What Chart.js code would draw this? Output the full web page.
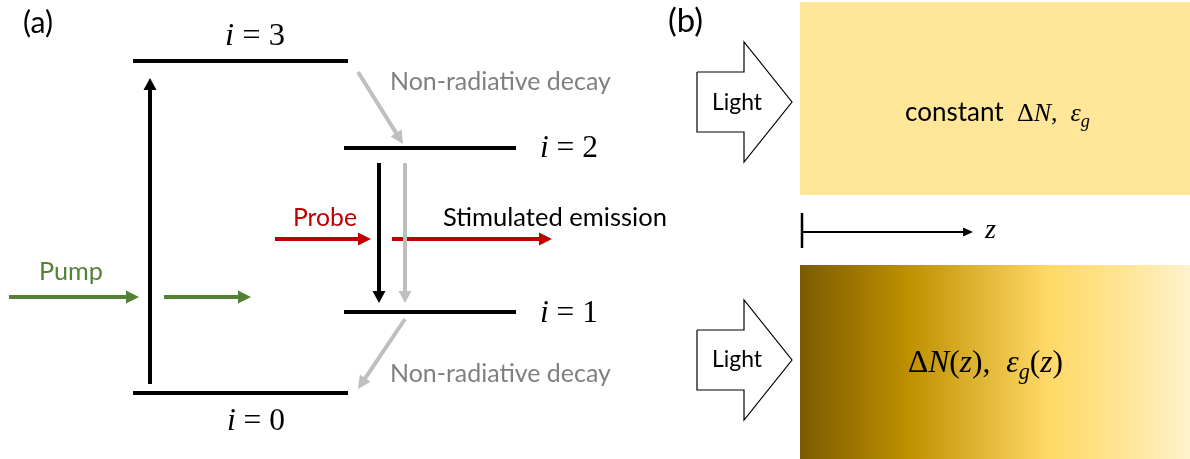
<!DOCTYPE html>
<html><head><meta charset="utf-8">
<script src="https://cdn.jsdelivr.net/npm/chart.js@4"></script>
<style>html,body{margin:0;padding:0;background:#fff;overflow:hidden}#wrap{width:1190px;height:459px}</style>
</head><body><div id="wrap"><canvas id="c" width="1190" height="459"></canvas></div>
<script>
// ---------- data (diagram units) ----------
const levelLabels = ['0', '1', '2', '3'];
const levelHeight = [393, 312, 148, 61];
const levelStart  = [133, 344, 344, 133];
const levelEnd    = [348, 516, 516, 348];

// transitions: [x0, y0, x1(tip), y1(tip)]
const pumpTransition        = [150, 384, 150, 78];
const stimulatedTransition  = [379, 163, 379, 303];
const spontaneousTransition = [405, 163, 405, 303];
const decayUpper            = [358, 72, 403, 144];
const decayLower            = [405, 319, 358, 389];
const pumpBeams  = [[9, 297, 139, 297], [164, 297, 251, 297]];
const probeBeams = [[275, 239, 371, 239], [392, 239, 552, 239]];

// panel (b)
const uniformSlab = [800, 2, 1190, 195];
const gradedSlab  = [800, 265, 1190, 459];
const zAxisArrow  = [802, 232, 973, 232];
const zAxisTick   = [802, 213, 802, 248];
// light arrows: [tail x, neck x, tip x, centre y, shaft half-height, head half-height]
const lightArrows = [[697, 744, 792, 102, 30, 60], [697, 744, 792, 360, 30, 60]];
const gradientStops = [0, 0.28, 0.635, 0.85, 1];
const gradientColors = ['#7A5B00', '#BF9000', '#FFD966', '#FFE699', '#FFF2CC'];

// texts
const panelLabels = ['(a)', '(b)'];
const beamLabels = ['Pump', 'Probe', 'Stimulated emission', 'Non-radiative decay', 'Non-radiative decay', 'Light', 'Light'];

// ---------- layout ----------
const C = {black:'#000000', green:'#548235', red:'#C00000', gray:'#BFBFBF', grayText:'#7F7F7F'};
const SANS = 'Lato, "Open Sans", sans-serif';
const MATH = '"Liberation Serif", "DejaVu Serif", serif';

function seg(a, head){
  if(!head) return [{x:a[0],y:a[1]},{x:a[2],y:a[3]}];
  const dx=a[2]-a[0], dy=a[3]-a[1], L=Math.hypot(dx,dy);
  return [{x:a[0],y:a[1]},{x:a[2]-dx/L*(head-2),y:a[3]-dy/L*(head-2)}];
}
function lineDs(points, color, width, extra){
  return Object.assign({data:points, showLine:true, borderColor:color, backgroundColor:color,
    borderWidth:width, pointRadius:0, pointHoverRadius:0, fill:false, tension:0, borderCapStyle:'butt', order:1}, extra||{});
}
function arrowDs(a, color, width, head, half){
  return lineDs(seg(a, head), color, width, {arrow:{a:a, head:head, half:half}});
}
function rectPts(r){ return [{x:r[0],y:r[1]},{x:r[2],y:r[1]},{x:r[2],y:r[3]},{x:r[0],y:r[3]},{x:r[0],y:r[1]}]; }
function blockArrowPts(b){
  const [x0,xn,xt,cy,hs,hh]=b;
  return [{x:x0,y:cy-hs},{x:xn,y:cy-hs},{x:xn,y:cy-hh},{x:xt,y:cy},{x:xn,y:cy+hh},{x:xn,y:cy+hs},{x:x0,y:cy+hs},{x:x0,y:cy-hs}];
}
function slabGradient(chart){
  const xs=chart.scales && chart.scales.x; if(!xs) return null;
  const a=xs.getPixelForValue(gradedSlab[0]), b=xs.getPixelForValue(gradedSlab[2]);
  if(!isFinite(a) || !isFinite(b)) return null;
  const g=chart.ctx.createLinearGradient(a,0,b,0);
  gradientStops.forEach((s,i)=>g.addColorStop(s,gradientColors[i]));
  return g;
}

const datasets = [];
// slabs (drawn underneath)
datasets.push(lineDs(rectPts(uniformSlab), 'rgba(0,0,0,0)', 0, {fill:'shape', backgroundColor:'#FFE699', order:10}));
datasets.push(lineDs(rectPts(gradedSlab), 'rgba(0,0,0,0)', 0, {fill:'shape', order:10, gradientSlab:true,
  backgroundColor:function(c){ return slabGradient(c.chart) || '#BF9000'; }}));
// light block arrows
lightArrows.forEach(b=>datasets.push(lineDs(blockArrowPts(b), C.black, 1.2, {fill:'shape', backgroundColor:'#FFFFFF', borderJoinStyle:'miter', order:5})));
// energy levels
levelHeight.forEach((y,i)=>datasets.push(lineDs([{x:levelStart[i],y:y},{x:levelEnd[i],y:y}], C.black, 4)));
// transitions
datasets.push(arrowDs(pumpTransition, C.black, 4, 12, 6.5));
datasets.push(arrowDs(stimulatedTransition, C.black, 4, 12, 6.5));
datasets.push(arrowDs(spontaneousTransition, C.gray, 4, 12, 6.5));
datasets.push(arrowDs(decayUpper, C.gray, 4, 13, 6.5));
datasets.push(arrowDs(decayLower, C.gray, 4, 13, 6.5));
pumpBeams.forEach(a=>datasets.push(arrowDs(a, C.green, 4, 13, 6.5)));
probeBeams.forEach(a=>datasets.push(arrowDs(a, C.red, 4, 13, 6.5)));
// z axis
datasets.push(lineDs(seg(zAxisTick), C.black, 2.5));
datasets.push(arrowDs(zAxisArrow, C.black, 2, 10, 4.5));

// text layout: [segments, x0, x1, baseline, colour]
const it = t=>({t:t, math:true, italic:true});
const rm = t=>({t:t, math:true});
const sub = t=>({t:t, math:true, italic:true, sub:true});
const sans = t=>({t:t});
const texts = [
  [[sans(panelLabels[0])], 23, 53, 33, C.black],
  [[sans(panelLabels[1])], 668, 703, 32, C.black],
  [[sans(beamLabels[0])], 39, 103, 280, C.green],
  [[sans(beamLabels[1])], 293, 357, 226, C.red],
  [[sans(beamLabels[2])], 443, 667, 226, C.black],
  [[sans(beamLabels[3])], 390, 611, 90, C.grayText],
  [[sans(beamLabels[4])], 390, 611, 382, C.grayText],
  [[sans(beamLabels[5])], 712, 762, 110, C.black],
  [[sans(beamLabels[6])], 712, 762, 367, C.black],
  [[it('i'), rm(' = '+levelLabels[3])], 225, 285, 45, C.black],
  [[it('i'), rm(' = '+levelLabels[0])], 227, 285, 430, C.black],
  [[it('i'), rm(' = '+levelLabels[2])], 540, 598, 157, C.black],
  [[it('i'), rm(' = '+levelLabels[1])], 540, 598, 322, C.black],
  [[sans('constant  '), rm('Δ'), it('N'), rm(',  '), it('ε'), sub('g')], 905, 1090, 121, C.black],
  [[rm('Δ'), it('N'), rm('('), it('z'), rm('),  '), it('ε'), sub('g'), rm('('), it('z'), rm(')')], 908, 1063, 372, C.black],
  [[it('z')], 985, 996, 238, C.black]
];

function fontStr(s, size){ return (s.italic?'italic ':'') + size.toFixed(2) + 'px ' + (s.math?MATH:SANS); }

const diagramPlugin = {
  id:'diagram',
  beforeDatasetsDraw(chart){
    const g=slabGradient(chart);
    chart.data.datasets.forEach((ds,i)=>{
      if(ds.gradientSlab && g){
        const meta=chart.getDatasetMeta(i);
        if(meta.dataset && meta.dataset.options) meta.dataset.options.backgroundColor=g;
      }
    });
  },
  afterDatasetsDraw(chart){
    const ctx=chart.ctx, xs=chart.scales.x, ys=chart.scales.y;
    // arrowheads
    chart.data.datasets.forEach(ds=>{
      if(!ds.arrow) return;
      const a=ds.arrow.a;
      const x0=xs.getPixelForValue(a[0]), y0=ys.getPixelForValue(a[1]);
      const x1=xs.getPixelForValue(a[2]), y1=ys.getPixelForValue(a[3]);
      const L=Math.hypot(x1-x0,y1-y0), ux=(x1-x0)/L, uy=(y1-y0)/L;
      const h=ds.arrow.head, w=ds.arrow.half;
      ctx.save(); ctx.fillStyle=ds.borderColor; ctx.beginPath();
      ctx.moveTo(x1,y1);
      ctx.lineTo(x1-ux*h-uy*w, y1-uy*h+ux*w);
      ctx.lineTo(x1-ux*h+uy*w, y1-uy*h-ux*w);
      ctx.closePath(); ctx.fill(); ctx.restore();
    });
    // texts
    texts.forEach(([segs, xa, xb, base, color])=>{
      const px0=xs.getPixelForValue(xa), px1=xs.getPixelForValue(xb), pb=ys.getPixelForValue(base);
      const s0=20; let w=0;
      segs.forEach(s=>{ctx.font=fontStr(s, s0*(s.sub?0.7:1)); w+=ctx.measureText(s.t).width;});
      const size=s0*(px1-px0)/w;
      let x=px0;
      ctx.save(); ctx.fillStyle=color; ctx.textBaseline='alphabetic'; ctx.textAlign='left';
      segs.forEach(s=>{
        const sz=size*(s.sub?0.7:1); ctx.font=fontStr(s, sz);
        ctx.fillText(s.t, x, pb + (s.sub? size*0.22 : 0));
        x+=ctx.measureText(s.t).width;
      });
      ctx.restore();
    });
  }
};

new Chart(document.getElementById('c'), {
  type:'scatter',
  data:{datasets:datasets},
  options:{
    responsive:false, animation:false, events:[],
    layout:{padding:0},
    plugins:{legend:{display:false}, tooltip:{enabled:false}},
    scales:{
      x:{type:'linear', min:0, max:1190, display:false},
      y:{type:'linear', min:0, max:459, reverse:true, display:false}
    }
  },
  plugins:[diagramPlugin]
});
</script></body></html>
